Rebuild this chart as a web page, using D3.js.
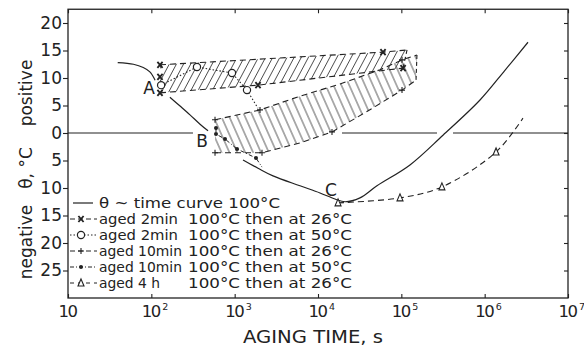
<!DOCTYPE html>
<html><head><meta charset="utf-8">
<script src="https://cdn.jsdelivr.net/npm/d3@7"></script>
<style>
html,body{margin:0;padding:0;background:#fff;}
svg{display:block;font-family:"DejaVu Sans",sans-serif;}
</style></head><body>
<svg id="chart" width="584" height="347"></svg>
<script>
// ---------- data (aging time in s, θ in °C) ----------
const xTicks = [1e1, 1e2, 1e3, 1e4, 1e5, 1e6, 1e7];
const xTickExp = ["", "2", "3", "4", "5", "6", "7"];
const yTicks = [20, 15, 10, 5, 0, -5, -10, -15, -20, -25];

// θ ~ time curve at 100 °C, broken where the A and B labels sit
const curve100a = [[39.5,12.8],[61,12.5],[80,11.9],[96,11.1],[111,9.6]];
const curve100b = [[167,6.5],[221,4.9],[291,3.3],[384,1.6],[479,0.4]];
const curve100c = [[1259,-4.9],[1905,-6.4],[2884,-7.8],[6081,-9.6],[10570,-10.9],[16000,-12.0],
                   [21100,-12.5],[31900,-11.8],[51000,-9.6],[127000,-5.8],[316000,-0.4],
                   [879000,6.0],[1750000,11.4],[3310000,16.5]];
// θ = 0 reference, drawn in pieces (time ranges)
const zeroSpans = [[10,316],[19400,268000],[417000,1e7]];
const curveLabels = ["A", "B", "C"];
const curveLabelAt = [[94,8.2],[406,-1.45],[14300,-10.3]];

// aged 2 min 100°C then at 26°C  (×)
const aged2m26 = [[127,12.4],[127,10.2],[127,7.3],[1905,8.7],[60300,14.7],[105000,11.8]];
const band1Upper = [[127,12.4],[60300,14.7],[117000,15.1]];
const band1Lower = [[127,7.3],[1905,8.7],[105000,11.8]];

// aged 2 min 100°C then at 50°C  (○)
const aged2m50 = [[131,8.7],[353,12.0],[929,10.9],[1406,7.8]];
const aged2m50Tail = [[1905,4.5]];

// aged 10 min 100°C then at 26°C  (+)
const aged10m26 = [[581,2.4],[581,-3.6],[2128,-3.6],[2014,4.2],[14720,0.2],[101900,13.3],[101900,7.8]];
const band2Upper = [[581,2.4],[2014,4.2],[6081,6.7],[18370,8.9],[55500,11.5],[101900,13.3],[154000,14.2]];
const band2Lower = [[581,-3.6],[2128,-3.6],[6081,-1.8],[14720,0.2],[37700,3.8],[101900,7.8],[150000,9.6]];

// aged 10 min 100°C then at 50°C  (•)
const aged10m50 = [[597,0.9],[597,-0.2],[766,-1.1],[1067,-2.9],[1803,-4.55]];
const aged10m50Tail = [[2128,-6.2]];

// aged 4 h 100°C then at 26°C  (△)
const aged4h26 = [[17400,-12.7],[96400,-11.8],[307000,-9.8],[1370000,-3.45]];
const aged4h26Tail = [[2880000,2.7]];

// legend
const legendHead = ["θ ~ time curve 100°C", "aged 2min", "aged 2min", "aged 10min", "aged 10min", "aged 4 h"];
const legendTail = ["", "100°C then at 26°C", "100°C then at 50°C", "100°C then at 26°C", "100°C then at 50°C", "100°C then at 26°C"];
const legendSym = ["line", "cross", "circle", "plus", "dot", "tri"];
const legendDash = [null, "5,3", "1.5,2", "5,3", "4,2,1,2", "4,4"];

// ---------- drawing ----------
const svg = d3.select("#chart");
const ink = "#222";
const L = 68, R = 568, T = 9.25, B = 298;
const x = d3.scaleLog().domain([10, 1e7]).range([L, R]);
const y = d3.scaleLinear().domain([-30, 22.5]).range([B, T]);

const defs = svg.append("defs");
function hatch(id, angle, gap) {
  const p = defs.append("pattern").attr("id", id).attr("patternUnits", "userSpaceOnUse")
    .attr("width", gap).attr("height", 10).attr("patternTransform", `rotate(${angle})`);
  p.append("line").attr("x1", gap/2).attr("x2", gap/2).attr("y1", 0).attr("y2", 10)
    .attr("stroke", "#444").attr("stroke-width", 0.9);
}
hatch("h1", 28, 6.3);
hatch("h2", -24, 7.2);

const line = d3.line().x(d => x(d[0])).y(d => y(d[1]));
const smooth = d3.line().x(d => x(d[0])).y(d => y(d[1])).curve(d3.curveCatmullRom.alpha(0.5));

// hatched bands
svg.append("path").attr("d", line(band1Upper.concat(band1Lower.slice().reverse())) + "Z")
  .attr("fill", "url(#h1)");
svg.append("path").attr("d", line(band2Upper.concat(band2Lower.slice().reverse())) + "Z")
  .attr("fill", "url(#h2)");

function stroke(d, dash, w) {
  return svg.append("path").attr("d", d).attr("fill", "none").attr("stroke", ink)
    .attr("stroke-width", w || 1.1).attr("stroke-dasharray", dash || null);
}
// band outlines
stroke(line(band1Upper), "6,4");
stroke(line(band1Lower), "6,4");
stroke(line([band1Upper[band1Upper.length-1], band1Lower[band1Lower.length-1]]), "4,3");
stroke(line(band2Upper), "6,4");
stroke(line(band2Lower), "6,4");
stroke(line([band2Upper[band2Upper.length-1], band2Lower[band2Lower.length-1]]), "4,3");

// zero line
zeroSpans.forEach(s => stroke(line([[s[0],0],[s[1],0]]), null, 1.1));

// 100 °C curve
[curve100a, curve100b, curve100c].forEach(c => stroke(smooth(c), null, 1.2));

// connecting lines of the other series
stroke(line(aged2m50.concat(aged2m50Tail)), "1.5,2", 1.1);
stroke(line(aged10m50.concat(aged10m50Tail)), "4,2,1,2", 1);
stroke(smooth(aged4h26.concat(aged4h26Tail)), "6,4", 1.1);

// markers
function marker(g, kind, cx, cy) {
  if (kind === "cross") {
    g.append("path").attr("d", `M${cx-2.6},${cy-3}L${cx+2.6},${cy+3}M${cx+2.6},${cy-3}L${cx-2.6},${cy+3}`)
      .attr("stroke", ink).attr("stroke-width", 1.8).attr("fill", "none");
  } else if (kind === "circle") {
    g.append("circle").attr("cx", cx).attr("cy", cy).attr("r", 3.6)
      .attr("fill", "#fff").attr("stroke", ink).attr("stroke-width", 1.2);
  } else if (kind === "plus") {
    g.append("path").attr("d", `M${cx-3},${cy}L${cx+3},${cy}M${cx},${cy-3}L${cx},${cy+3}`)
      .attr("stroke", ink).attr("stroke-width", 1.1).attr("fill", "none");
  } else if (kind === "dot") {
    g.append("circle").attr("cx", cx).attr("cy", cy).attr("r", 2).attr("fill", ink);
  } else if (kind === "tri") {
    g.append("path").attr("d", `M${cx},${cy-4}L${cx+3},${cy+3}L${cx-3},${cy+3}Z`)
      .attr("fill", "#fff").attr("stroke", ink).attr("stroke-width", 1.1);
  }
}
const mg = svg.append("g");
aged2m26.forEach(d => marker(mg, "cross", x(d[0]), y(d[1])));
aged2m50.forEach(d => marker(mg, "circle", x(d[0]), y(d[1])));
aged10m26.forEach(d => marker(mg, "plus", x(d[0]), y(d[1])));
aged10m50.forEach(d => marker(mg, "dot", x(d[0]), y(d[1])));
aged4h26.forEach(d => marker(mg, "tri", x(d[0]), y(d[1])));

// curve labels A, B, C
curveLabels.forEach((t, i) => {
  svg.append("text").attr("x", x(curveLabelAt[i][0])).attr("y", y(curveLabelAt[i][1]))
    .attr("text-anchor", "middle").attr("dominant-baseline", "central")
    .attr("font-size", 17).attr("fill", ink).text(t);
});

// frame
svg.append("rect").attr("x", L).attr("y", T).attr("width", R - L).attr("height", B - T)
  .attr("fill", "none").attr("stroke", ink).attr("stroke-width", 1.3);

// axes (tick marks only; the labels are set separately)
function styleAxis(g) {
  g.select(".domain").remove();
  g.selectAll(".tick line").attr("stroke", ink).attr("stroke-width", 1.1);
}
function marksOnly(g) {
  styleAxis(g);
  g.selectAll(".tick text").remove();
}
svg.append("g").attr("transform", `translate(0,${B})`)
  .call(d3.axisBottom(x).tickValues(xTicks).tickSize(-4))
  .call(marksOnly);
svg.append("g").attr("transform", `translate(0,${T})`)
  .call(d3.axisTop(x).tickValues(xTicks).tickSize(-4))
  .call(marksOnly);
svg.append("g").attr("transform", `translate(${R},0)`)
  .call(d3.axisRight(y).tickValues(yTicks).tickSize(-4))
  .call(marksOnly);
const yl = svg.append("g").attr("transform", `translate(${L},0)`)
  .call(d3.axisLeft(y).tickValues(yTicks).tickSize(5).tickPadding(1).tickFormat(d => Math.abs(d)))
  .call(styleAxis);
yl.selectAll(".tick text").attr("font-size", 17).attr("fill", ink)
  .attr("font-family", "DejaVu Sans, sans-serif");

// x tick labels 10, 10², ... (one text each, exponent raised)
xTicks.forEach((v, i) => {
  const t = svg.append("text").attr("x", x(v) - 9.5).attr("y", 317)
    .attr("font-size", 16.5).attr("letter-spacing", -1.5).attr("fill", ink);
  t.append("tspan").text("10");
  if (xTickExp[i]) {
    t.append("tspan").attr("dx", 2.5).attr("dy", -7).attr("font-size", 9.5)
      .attr("letter-spacing", 0).text(xTickExp[i]);
  }
});

// axis titles
svg.append("text").attr("x", 243).attr("y", 343)
  .attr("font-size", 17).attr("fill", ink).attr("textLength", 140)
  .attr("lengthAdjust", "spacingAndGlyphs").text("AGING TIME, s");
[["positive", 93], ["θ, °C", 168], ["negative", 242]].forEach(([t, cy]) => {
  svg.append("text").attr("transform", `translate(32,${cy}) rotate(-90)`)
    .attr("text-anchor", "middle").attr("font-size", 17).attr("fill", ink).text(t);
});

// legend (tight rows, condition column aligned)
const headWidth = [181, 79, 79, 83, 83, 61];
const rowY = d3.range(legendHead.length).map(i => 203 + i * 16);
const legendFont = 13.6;
legendHead.forEach((t, i) => {
  const ly = rowY[i];
  if (legendSym[i] === "line") {
    stroke(`M73,${ly}L93,${ly}`, null, 1.2);
  } else {
    stroke(`M70,${ly}L97,${ly}`, legendDash[i], 1);
    marker(svg, legendSym[i], 81, ly);
  }
  svg.append("text").attr("x", 99).attr("y", ly + 4.8).attr("font-size", legendFont).attr("fill", ink)
    .attr("textLength", headWidth[i]).attr("lengthAdjust", "spacingAndGlyphs").text(t);
  if (legendTail[i]) {
    svg.append("text").attr("x", 188).attr("y", ly + 4.8).attr("font-size", legendFont).attr("fill", ink)
      .attr("textLength", 164).attr("lengthAdjust", "spacingAndGlyphs").text(legendTail[i]);
  }
});
</script>
</body></html>
